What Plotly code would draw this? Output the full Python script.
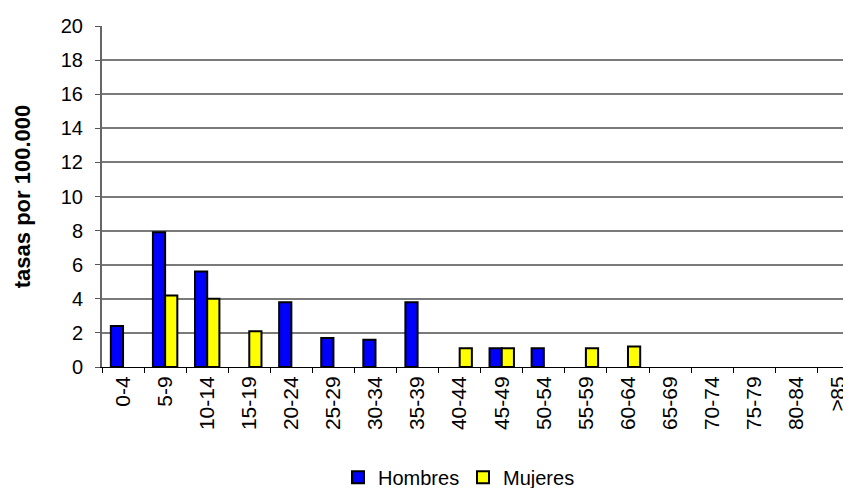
import plotly.graph_objects as go

categories = ["0-4", "5-9", "10-14", "15-19", "20-24", "25-29", "30-34", "35-39",
              "40-44", "45-49", "50-54", "55-59", "60-64", "65-69", "70-74",
              "75-79", "80-84", "≥85"]
hombres = [2.4, 7.9, 5.6, None, 3.8, 1.7, 1.6, 3.8, None, 1.1, 1.1, None, None,
           None, None, None, None, None]
mujeres = [None, 4.2, 4.0, 2.1, None, None, None, None, 1.1, 1.1, None, 1.1, 1.2,
           None, None, None, None, None]
y_ticks = list(range(0, 21, 2))

FONT = "Liberation Sans, Arial, sans-serif"

fig = go.Figure()
fig.add_trace(go.Bar(name="Hombres", x=categories, y=hombres,
                     marker=dict(color="#0000FF", line=dict(color="#000000", width=2))))
fig.add_trace(go.Bar(name="Mujeres", x=categories, y=mujeres,
                     marker=dict(color="#FFFF00", line=dict(color="#000000", width=2))))

# page body has an 8px default margin, so the figure is sized to fill the rest
fig.update_layout(
    width=843, height=480,
    margin=dict(l=94, r=0, t=18, b=121, autoexpand=False),
    paper_bgcolor="white", plot_bgcolor="white",
    barmode="group", bargap=0.42, bargroupgap=0,
    font=dict(family=FONT, color="black", size=19),
    showlegend=True,
    legend=dict(orientation="h", x=0.482, xanchor="center", y=-0.323, yanchor="middle",
                font=dict(size=20), itemwidth=30, entrywidth=80,
                bgcolor="rgba(0,0,0,0)"),
)
fig.update_xaxes(
    type="category", range=[-0.5, 17.3], automargin=False,
    tickangle=-90, tickfont=dict(size=21),
    ticks="outside", ticklen=5, tickcolor="black", tickson="boundaries",
    showline=True, linecolor="black", linewidth=1, showgrid=False,
)
fig.update_yaxes(
    range=[0, 20], tickvals=y_ticks, tickfont=dict(size=20), automargin=False,
    ticks="outside", ticklen=5, tickcolor="#555555", ticklabelstandoff=8,
    showline=True, linecolor="#666666", linewidth=2,
    showgrid=True, gridcolor="#7a7a7a", gridwidth=1.5,
    zeroline=False,
    title=dict(text="<b>tasas por 100.000</b>", font=dict(size=22), standoff=24),
)

fig.write_html("out.html")
